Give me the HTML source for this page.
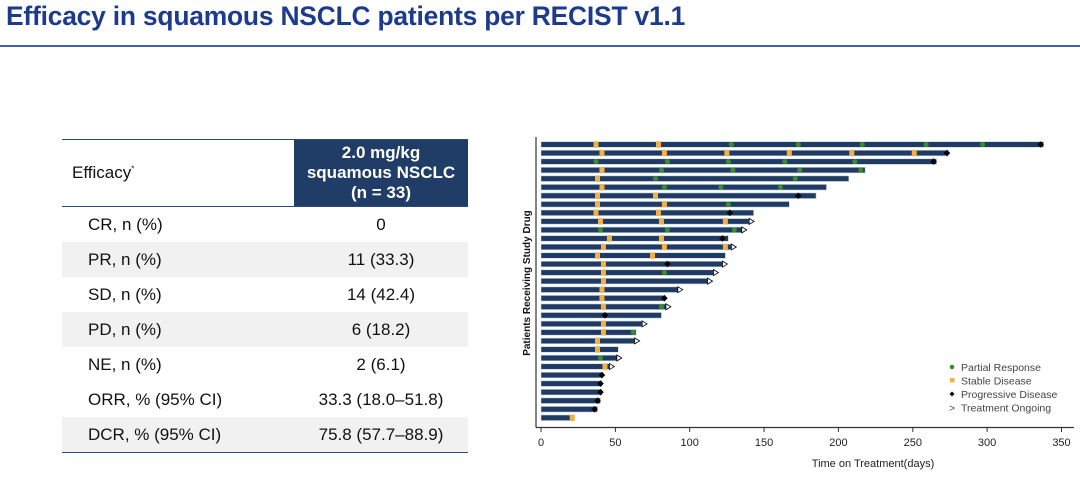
<!DOCTYPE html>
<html><head><meta charset="utf-8"><style>
body{margin:0;width:1080px;height:479px;background:#fff;position:relative;overflow:hidden;font-family:"Liberation Sans",sans-serif}
h1{position:absolute;left:6px;top:1px;margin:0;font-size:26.4px;font-weight:bold;color:#1c3a8e;letter-spacing:-0.2px}
.rule{position:absolute;left:0;top:45px;width:1080px;height:2px;background:#3c62a8}
table{position:absolute;left:62px;top:139px;border-collapse:collapse;width:406px;font-size:17px;color:#111}
td{height:35px;padding:0}
td.l{padding-left:26px;width:206px}
td.r{text-align:center}
tr.g td{background:#f1f1f1}
tr.h td{height:66px;border-top:1.5px solid #2a4a7a;border-bottom:1.5px solid #2a4a7a}
tr.h td.l{padding-left:10px}
tr.h td.r{background:#1f3d66;color:#fff;font-weight:bold;line-height:20px}
tr.last td{border-bottom:1.5px solid #2a4a7a}
</style></head><body>
<h1>Efficacy in squamous NSCLC patients per RECIST v1.1</h1>
<div class="rule"></div>
<table>
<tr class="h"><td class="l">Efficacy<sup style="font-size:8px">*</sup></td><td class="r">2.0 mg/kg<br>squamous NSCLC<br>(n = 33)</td></tr>
<tr><td class="l">CR, n (%)</td><td class="r">0</td></tr>
<tr class="g"><td class="l">PR, n (%)</td><td class="r">11 (33.3)</td></tr>
<tr><td class="l">SD, n (%)</td><td class="r">14 (42.4)</td></tr>
<tr class="g"><td class="l">PD, n (%)</td><td class="r">6 (18.2)</td></tr>
<tr><td class="l">NE, n (%)</td><td class="r">2 (6.1)</td></tr>
<tr><td class="l">ORR, % (95% CI)</td><td class="r">33.3 (18.0–51.8)</td></tr>
<tr class="g last"><td class="l">DCR, % (95% CI)</td><td class="r">75.8 (57.7–88.9)</td></tr>
</table>
<svg width="1080" height="479" style="position:absolute;left:0;top:0" font-family="Liberation Sans, sans-serif">
<g id="bars"></g>
<line x1="536" y1="137" x2="536" y2="427.5" stroke="#333" stroke-width="1.2"/>
<line x1="536" y1="427.5" x2="1074" y2="427.5" stroke="#333" stroke-width="1.2"/>
<g stroke="#333" stroke-width="1">
<line x1="541" y1="427" x2="541" y2="432"/><line x1="615.4" y1="427" x2="615.4" y2="432"/><line x1="689.7" y1="427" x2="689.7" y2="432"/><line x1="764.1" y1="427" x2="764.1" y2="432"/><line x1="838.4" y1="427" x2="838.4" y2="432"/><line x1="912.8" y1="427" x2="912.8" y2="432"/><line x1="987.1" y1="427" x2="987.1" y2="432"/><line x1="1061.5" y1="427" x2="1061.5" y2="432"/>
</g>
<g font-size="11" fill="#222" text-anchor="middle">
<text x="541" y="446">0</text><text x="615.4" y="446">50</text><text x="689.7" y="446">100</text><text x="764.1" y="446">150</text><text x="838.4" y="446">200</text><text x="912.8" y="446">250</text><text x="987.1" y="446">300</text><text x="1061.5" y="446">350</text>
<text x="873" y="467">Time on Treatment(days)</text>
</g>
<text transform="translate(530,283) rotate(-90)" font-size="10" font-weight="bold" fill="#111" text-anchor="middle">Patients Receiving Study Drug</text>
<g font-size="10.5" fill="#444">
<circle cx="952" cy="367" r="2.3" fill="#3b8a2e"/><text x="961" y="371">Partial Response</text>
<rect x="950" y="378" width="4.5" height="4.5" fill="#f0b04a"/><text x="961" y="384.5">Stable Disease</text>
<path d="M952 391.5 L954.5 394 L952 396.5 L949.5 394Z" fill="#000"/><text x="961" y="398">Progressive Disease</text>
<text x="949" y="411.5">&gt;</text><text x="961" y="411.5">Treatment Ongoing</text>
</g>
</svg>
<script>
var rows=[
[338,"S37 S79 P128 P173 P216 P259 P297 D336"],
[274,"S41 S83 S125 S167 S209 S251 D273"],
[266,"P37 P85 P126 P164 P211 D264"],
[218,"S41 P81 P129 P174 P215"],
[207,"S38 P77 P171"],
[192,"S41 P83 P121 P161"],
[185,"S38 S77 D173"],
[167,"S38 S83 P126"],
[143,"S37 S79 D127"],
[140,"S40 S81 S124 A"],
[135,"P40 P85 P130 A"],
[126,"S46 S81 D122"],
[128,"S42 S83 S124 A"],
[124,"S38 S75"],
[122,"S42 D85 A"],
[116,"S42 P83 A"],
[112,"S42 A"],
[92,"S41 A"],
[83,"S41 D83"],
[84,"S42 P81 A"],
[81,"D43"],
[68,"S42 A"],
[64,"S42 P62"],
[63,"S38 A"],
[52,"S38"],
[51,"P40 A"],
[46,"S43 A"],
[41,"D41"],
[41,"D40"],
[41,"D40"],
[40,"D38"],
[38,"D36"],
[22,"S21"]];
var g=document.getElementById('bars'),s='';
function X(d){return 541+d*1.487}
rows.forEach(function(r,i){
 var y=144.5+i*8.54;
 s+='<rect x="541" y="'+(y-2.8)+'" width="'+(X(r[0])-541)+'" height="5.6" fill="#1f3b63" stroke="#c9d6e6" stroke-width="0.6"/>';
 r[1].split(' ').forEach(function(m){
  var t=m[0],d=+m.slice(1),x=X(d);
  if(t=='S')s+='<rect x="'+(x-2.5)+'" y="'+(y-3.2)+'" width="5" height="6.4" fill="#f0b04a"/>';
  if(t=='P')s+='<circle cx="'+x+'" cy="'+y+'" r="2.6" fill="#3b8a2e"/>';
  if(t=='D')s+='<path d="M'+x+' '+(y-3.3)+' L'+(x+3.3)+' '+y+' L'+x+' '+(y+3.3)+' L'+(x-3.3)+' '+y+'Z" fill="#000"/>';
  if(t=='A'){var e=X(r[0]);s+='<path d="M'+e+' '+(y-3)+' L'+(e+5)+' '+y+' L'+e+' '+(y+3)+'Z" fill="#fff" stroke="#000" stroke-width="0.8"/>';}
 });
});
g.innerHTML=s;
</script>
</body></html>
